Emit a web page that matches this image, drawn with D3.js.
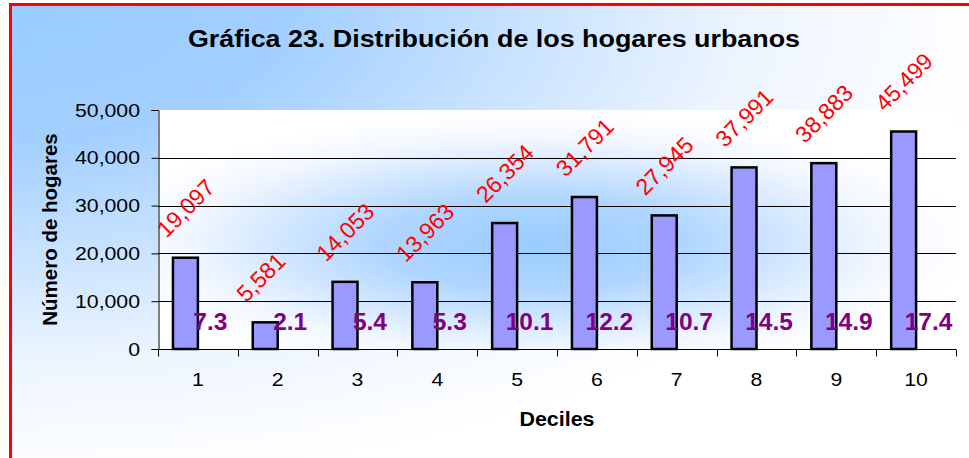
<!DOCTYPE html>
<html lang="es">
<head>
    <meta charset="UTF-8">
    <title>Gráfica 23</title>
    <style>
        body { margin: 0; background: #fff; }
        svg { display: block; font-family: "Liberation Sans", Arial, sans-serif; }
    </style>
</head>
<body>
    <svg id="chart" width="969" height="458"></svg>
    <script src="https://cdn.jsdelivr.net/npm/d3@7"></script>
    <script>
        // data
        const deciles = ["1", "2", "3", "4", "5", "6", "7", "8", "9", "10"];
        const hogares = [19097, 5581, 14053, 13963, 26354, 31791, 27945, 37991, 38883, 45499];
        const porcentajes = [7.3, 2.1, 5.4, 5.3, 10.1, 12.2, 10.7, 14.5, 14.9, 17.4];
        const yTicks = [0, 10000, 20000, 30000, 40000, 50000];
        const gridTicks = [10000, 20000, 30000, 40000];

        const rows = deciles.map((d, i) => ({decil: d, hogares: hogares[i], pct: porcentajes[i]}));

        const svg = d3.select("#chart");
        const defs = svg.append("defs");

        // chart area: blue from the top-left corner fading to white
        const bg = defs.append("radialGradient")
            .attr("id", "bgGrad")
            .attr("cx", 0).attr("cy", 0).attr("r", 1).attr("fx", 0).attr("fy", 0);
        bg.append("stop").attr("offset", 0).attr("stop-color", "#99ccff");
        bg.append("stop").attr("offset", 0.28).attr("stop-color", "#a2cfff");
        bg.append("stop").attr("offset", 0.75).attr("stop-color", "#eef5ff");
        bg.append("stop").attr("offset", 1).attr("stop-color", "#ffffff");

        // plot area: blue glow in the middle
        const pg = defs.append("radialGradient")
            .attr("id", "plotGrad")
            .attr("cx", 0.47).attr("cy", 0.56).attr("r", 0.55);
        pg.append("stop").attr("offset", 0).attr("stop-color", "#99ccff");
        pg.append("stop").attr("offset", 0.35).attr("stop-color", "#b0d6ff");
        pg.append("stop").attr("offset", 0.8).attr("stop-color", "#f2f7ff");
        pg.append("stop").attr("offset", 1).attr("stop-color", "#ffffff");

        svg.append("rect")
            .attr("x", 10.5).attr("y", 4.5)
            .attr("width", 990).attr("height", 480)
            .attr("fill", "url(#bgGrad)")
            .attr("stroke", "#ff0000")
            .attr("stroke-width", 3);

        const plot = {left: 158, right: 956, top: 110, bottom: 349};

        const x = d3.scaleBand()
            .domain(deciles)
            .range([plot.left, plot.right])
            .paddingInner(0.375)
            .paddingOuter(0.1875);

        const xs = d3.scaleBand()
            .domain(["hogares", "pct"])
            .range([0, x.bandwidth()]);

        const y = d3.scaleLinear()
            .domain([0, 50000])
            .range([plot.bottom, plot.top]);

        svg.append("rect")
            .attr("x", plot.left).attr("y", plot.top)
            .attr("width", plot.right - plot.left)
            .attr("height", plot.bottom - plot.top)
            .attr("fill", "url(#plotGrad)");

        // gridlines
        svg.append("g")
            .selectAll("line")
            .data(gridTicks)
            .join("line")
            .attr("x1", plot.left).attr("x2", plot.right)
            .attr("y1", d => Math.round(y(d)) + 0.5)
            .attr("y2", d => Math.round(y(d)) + 0.5)
            .attr("stroke", "#000")
            .attr("stroke-width", 1);

        // bars
        svg.append("g")
            .selectAll("rect")
            .data(rows)
            .join("rect")
            .attr("x", d => x(d.decil) + xs("hogares"))
            .attr("y", d => y(d.hogares))
            .attr("width", xs.bandwidth())
            .attr("height", d => y(0) - y(d.hogares))
            .attr("fill", "#9999ff")
            .attr("stroke", "#000")
            .attr("stroke-width", 2.5);

        // y axis
        svg.append("g")
            .attr("transform", `translate(${plot.left + 0.5},0)`)
            .call(d3.axisLeft(y)
                .tickValues(yTicks)
                .tickSize(7)
                .tickPadding(9.5)
                .tickFormat(d3.format(",")))
            .call(g => g.select(".domain").attr("stroke", "#000"))
            .call(g => g.selectAll(".tick line").attr("stroke", "#000"))
            .call(g => g.selectAll(".tick text")
                .attr("font-family", "'Liberation Sans', Arial, sans-serif")
                .attr("font-size", 19)
                .attr("fill", "#000")
                .attr("transform", "scale(1.12,1)"));

        // x axis: category-boundary ticks and centred labels
        const xAxis = svg.append("g")
            .attr("transform", `translate(0,${plot.bottom + 0.5})`);
        xAxis.append("line")
            .attr("x1", plot.left).attr("x2", plot.right)
            .attr("stroke", "#000");
        xAxis.selectAll("line.bound")
            .data(d3.range(deciles.length + 1))
            .join("line")
            .attr("class", "bound")
            .attr("x1", i => Math.round(plot.left + i * x.step()) + 0.5)
            .attr("x2", i => Math.round(plot.left + i * x.step()) + 0.5)
            .attr("y1", 0).attr("y2", 7)
            .attr("stroke", "#000");
        xAxis.call(d3.axisBottom(x).tickSize(0).tickPadding(23))
            .call(g => g.select(".domain").remove())
            .call(g => g.selectAll(".tick text")
                .attr("font-family", "'Liberation Sans', Arial, sans-serif")
                .attr("font-size", 19)
                .attr("fill", "#000")
                .attr("transform", "scale(1.12,1)"));

        // red value labels, rotated
        svg.append("g")
            .selectAll("text")
            .data(rows)
            .join("text")
            .attr("transform", d => `translate(${x(d.decil) + xs("hogares") + xs.bandwidth() / 2 - 19},${y(d.hogares) - 19}) rotate(-45)`)
            .attr("text-anchor", "start")
            .attr("font-size", 23)
            .attr("fill", "#ff0000")
            .text(d => d3.format(",")(d.hogares));

        // purple percentage labels (second, invisible series)
        svg.append("g")
            .selectAll("text")
            .data(rows)
            .join("text")
            .attr("x", d => x(d.decil) + xs("pct") + xs.bandwidth() / 2)
            .attr("y", d => y(d.pct) - 19)
            .attr("text-anchor", "middle")
            .attr("font-size", 24.5)
            .attr("font-weight", "bold")
            .attr("fill", "#800080")
            .text(d => d.pct.toFixed(1));

        // titles
        svg.append("text")
            .attr("transform", "translate(494,47) scale(1.12,1)")
            .attr("text-anchor", "middle")
            .attr("font-size", 24)
            .attr("font-weight", "bold")
            .attr("fill", "#000")
            .text("Gráfica 23. Distribución de los hogares urbanos");

        svg.append("text")
            .attr("transform", `translate(57,${(plot.top + plot.bottom) / 2}) rotate(-90)`)
            .attr("text-anchor", "middle")
            .attr("font-size", 20.5)
            .attr("font-weight", "bold")
            .attr("fill", "#000")
            .text("Número de hogares");

        svg.append("text")
            .attr("transform", `translate(${(plot.left + plot.right) / 2},426) scale(1.1,1)`)
            .attr("text-anchor", "middle")
            .attr("font-size", 19.5)
            .attr("font-weight", "bold")
            .attr("fill", "#000")
            .text("Deciles");
    </script>
</body>
</html>
